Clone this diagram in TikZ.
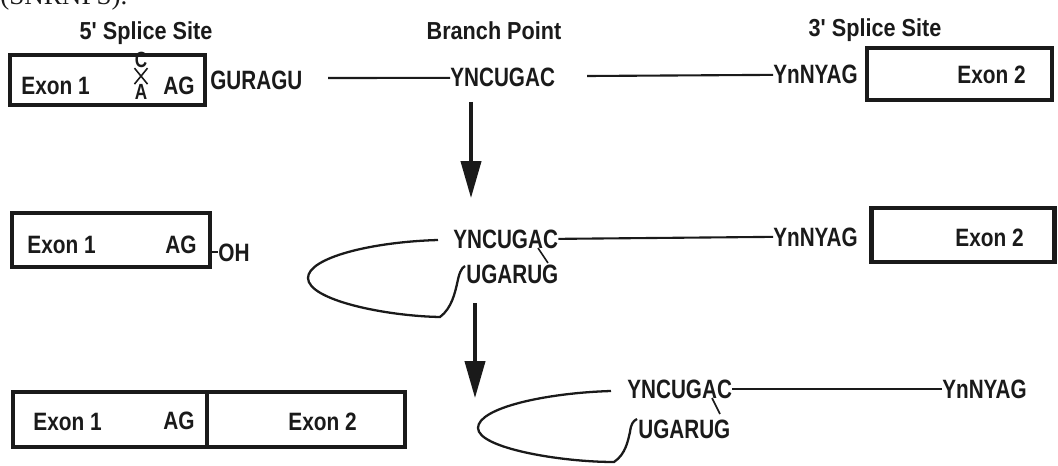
\documentclass[tikz,border=0pt]{standalone}
\usepackage{fontspec}
\setmainfont{Liberation Sans}
\newfontfamily\seqfont{Liberation Sans}[FakeStretch=0.78]
\newfontfamily\labfont{Liberation Sans}[FakeStretch=0.83]
\newfontfamily\headfont{Liberation Sans}[FakeStretch=0.88]
\newfontfamily\serfont{Liberation Serif}
\usetikzlibrary{arrows.meta}
\definecolor{ink}{HTML}{1A1A1A}

\begin{document}
\begin{tikzpicture}[
  x=0.02cm, y=-0.02cm,
  exon/.style = {draw=ink, line width=2.6pt, inner sep=0pt},
  txt/.style  = {inner sep=0pt, anchor=base west, text=ink},
  seq/.style  = {txt, font=\seqfont\bfseries\fontsize{15.1}{16}\selectfont},
  lab/.style  = {txt, font=\labfont\bfseries\fontsize{14.3}{16}\selectfont},
  head/.style = {inner sep=0pt, anchor=base, text=ink,
                 font=\headfont\bfseries\fontsize{14}{16}\selectfont},
  tiny/.style = {inner sep=0pt, text=ink, font=\seqfont\bfseries\fontsize{12.5}{13}\selectfont},
  link/.style = {draw=ink, line width=1.2pt},
  loop/.style = {draw=ink, line width=1.3pt},
  arr/.style  = {draw=ink, line width=1.9pt, -{Triangle[length=21pt,width=11.5pt]}},
]
\useasboundingbox (0,0) rectangle (1058,466);

% ---------- cut-off caption above ----------
\node[txt, font=\serfont\fontsize{15.4}{16}\selectfont] (cap) at (0,5) {(SNRNPS).};

% ---------- headings ----------
\node[head] (ss5) at (146,40) {5' Splice Site};
\node[head] (bpt) at (494,40) {Branch Point};
\node[head] (ss3) at (875,37) {3' Splice Site};

% ---------- pre-mRNA ----------
\node[exon, minimum width=3.9cm, minimum height=1.0cm] (ex1a) at (107.5,80) {};
\node[lab] (ex1at) at (21,94) {Exon 1};
\node[lab] (ag1) at (163,94) {AG};
\node[tiny] (cC) at (141,60) {C};
\node[tiny] (cA) at (141,92) {A};
\draw[link, line width=0.9pt] (cC.south west) -- (cA.north east);
\draw[link, line width=0.9pt] (cC.south east) -- (cA.north west);
\node[seq] (gu1) at (210,90) {GURAGU};
\node[seq] (bp1) at (450,87) {YNCUGAC};
\node[seq] (yn1) at (773,84) {YnNYAG};
\node[exon, minimum width=3.7cm, minimum height=1.04cm] (ex1b) at (959.5,74) {};
\node[lab] (ex1bt) at (957,84) {Exon 2};
\coordinate (i1a) at (328,78);
\coordinate (i1b) at (587,76);
\draw[link] (i1a) -- (bp1.west);
\draw[link] (i1b) -- (yn1.west);

% ---------- step 1 ----------
\coordinate (a1s) at (471,102);
\coordinate (a1e) at (471,198);
\draw[arr] (a1s) -- (a1e);

% ---------- lariat intermediate ----------
\node[exon, minimum width=3.96cm, minimum height=1.08cm] (ex2a) at (111,240) {};
\node[lab] (ex2at) at (27,253) {Exon 1};
\node[lab] (ag2) at (165,253) {AG};
\node[lab] (oh) at (218,261) {OH};
\draw[link] (ex2a.east |- oh.west) -- (oh.west);
\node[seq] (bp2) at (453,248) {YNCUGAC};
\node[seq] (ug2) at (466,283) {UGARUG};
\node[seq] (yn2) at (773,246) {YnNYAG};
\node[exon, minimum width=3.66cm, minimum height=1.08cm] (ex2b) at (963,235) {};
\node[lab] (ex2bt) at (955,246) {Exon 2};
\draw[link] (bp2.east) -- (yn2.west);
\coordinate (c2) at (538,248);
\coordinate (g2) at (548,263);
\draw[link, line width=0.9pt] (c2) -- (g2);
\coordinate (l2s) at (438,240);
\coordinate (l2e) at (465,266);
\draw[loop] (l2s) .. controls (370,242) and (308,258) .. (308,278)
  .. controls (308,300) and (385,316) .. (440,317)
  .. controls (452,308) and (455,292) .. (457,284)
  .. controls (459,274) and (461,268) .. (l2e);

% ---------- step 2 ----------
\coordinate (a2s) at (475,303);
\coordinate (a2e) at (475,398);
\draw[arr] (a2s) -- (a2e);

% ---------- products ----------
\node[exon, minimum width=3.88cm, minimum height=1.1cm] (ex3a) at (110,419.5) {};
\node[exon, minimum width=3.96cm, minimum height=1.1cm] (ex3b) at (306,419.5) {};
\node[lab] (ex3at) at (33,430) {Exon 1};
\node[lab] (ag3) at (163,429) {AG};
\node[lab] (ex3bt) at (288,430) {Exon 2};
\node[seq] (bp3) at (627,398) {YNCUGAC};
\node[seq] (ug3) at (638,438) {UGARUG};
\node[seq] (yn3) at (942,398) {YnNYAG};
\draw[link] (bp3.east) -- (yn3.west);
\coordinate (c3) at (712,398);
\coordinate (g3) at (720,414);
\draw[link, line width=0.9pt] (c3) -- (g3);
\coordinate (l3s) at (611,391);
\coordinate (l3e) at (637,419);
\draw[loop] (l3s) .. controls (545,393) and (478,408) .. (478,428)
  .. controls (478,448) and (560,462) .. (614,462)
  .. controls (626,454) and (628,440) .. (630,432)
  .. controls (631,424) and (633,421) .. (l3e);

\end{tikzpicture}
\end{document}
